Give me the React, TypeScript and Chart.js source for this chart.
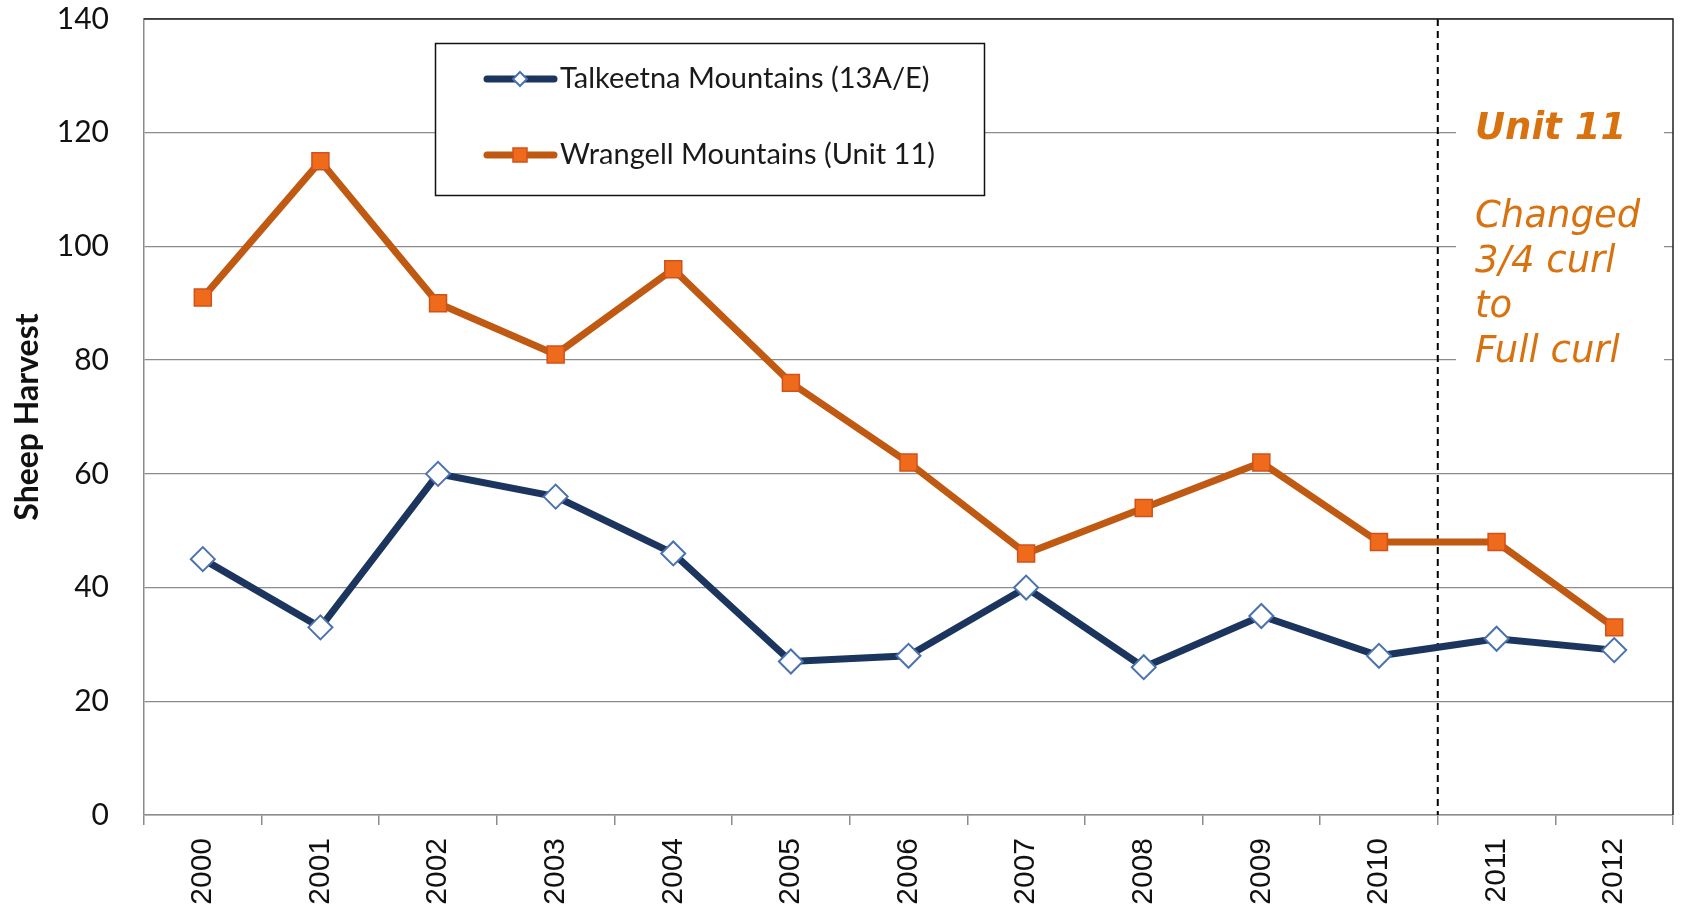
import React, { useEffect, useRef } from "react";
import { Chart, registerables } from "chart.js";

Chart.register(...registerables);

const years = ["2000", "2001", "2002", "2003", "2004", "2005", "2006", "2007", "2008", "2009", "2010", "2011", "2012"];
const talkeetna = [45, 33, 60, 56, 46, 27, 28, 40, 26, 35, 28, 31, 29];
const wrangell = [91, 115, 90, 81, 96, 76, 62, 46, 54, 62, 48, 48, 33];
const seriesNames = ["Talkeetna Mountains (13A/E)", "Wrangell Mountains (Unit 11)"];
const yAxisTitle = "Sheep Harvest";
const noteTitle = "Unit 11";
const noteLines = ["Changed", "3/4 curl", "to", "Full curl"];
const changeBetween = ["2010", "2011"];

const NAVY = "#1c355e";
const DIAMOND_EDGE = "#4a72b0";
const ORANGE_LINE = "#c05a12";
const ORANGE_FILL = "#f06a1c";
const ORANGE_EDGE = "#d0521a";
const NOTE_COLOR = "#d8720f";
const GRID = "#8c8c8c";

function drawDiamond(ctx: CanvasRenderingContext2D, x: number, y: number, r: number) {
  ctx.beginPath();
  ctx.moveTo(x, y - r);
  ctx.lineTo(x + r, y);
  ctx.lineTo(x, y + r);
  ctx.lineTo(x - r, y);
  ctx.closePath();
  ctx.fillStyle = "#ffffff";
  ctx.fill();
  ctx.lineWidth = 2;
  ctx.strokeStyle = DIAMOND_EDGE;
  ctx.stroke();
}

function drawSquare(ctx: CanvasRenderingContext2D, x: number, y: number, s: number) {
  ctx.fillStyle = ORANGE_FILL;
  ctx.fillRect(x - s / 2, y - s / 2, s, s);
  ctx.lineWidth = 1.5;
  ctx.strokeStyle = ORANGE_EDGE;
  ctx.strokeRect(x - s / 2, y - s / 2, s, s);
}

const decorPlugin = {
  id: "decor",
  beforeDatasetsDraw(chart: any) {
    const { ctx, chartArea, scales } = chart;
    const x = scales.x;
    ctx.save();
    ctx.fillStyle = "#ffffff";
    ctx.fillRect(1456, 100, 208, 275);
    const i0 = years.indexOf(changeBetween[0]);
    const i1 = years.indexOf(changeBetween[1]);
    const xm = (x.getPixelForValue(i0) + x.getPixelForValue(i1)) / 2;
    ctx.strokeStyle = "#000000";
    ctx.lineWidth = 2;
    ctx.setLineDash([7, 5]);
    ctx.beginPath();
    ctx.moveTo(xm, chartArea.top);
    ctx.lineTo(xm, chartArea.bottom);
    ctx.stroke();
    ctx.setLineDash([]);
    ctx.strokeStyle = "#222222";
    ctx.lineWidth = 1.5;
    ctx.beginPath();
    ctx.moveTo(chartArea.left, chartArea.top);
    ctx.lineTo(chartArea.right, chartArea.top);
    ctx.lineTo(chartArea.right, chartArea.bottom);
    ctx.stroke();
    ctx.restore();
  },
  afterDraw(chart: any) {
    const { ctx } = chart;
    ctx.save();
    ctx.fillStyle = "#ffffff";
    ctx.fillRect(435, 43, 550, 153);
    ctx.strokeStyle = "#111111";
    ctx.lineWidth = 1.5;
    ctx.strokeRect(435.5, 43.5, 549, 152);
    const rows = [79, 155];
    rows.forEach((ry, i) => {
      ctx.lineWidth = 7;
      ctx.strokeStyle = i === 0 ? NAVY : ORANGE_LINE;
      ctx.lineCap = "round";
      ctx.beginPath();
      ctx.moveTo(487, ry);
      ctx.lineTo(554, ry);
      ctx.stroke();
      if (i === 0) drawDiamond(ctx, 520, ry, 7);
      else drawSquare(ctx, 520, ry, 14);
      ctx.fillStyle = "#1a1a1a";
      ctx.font = "29px Lato";
      ctx.textBaseline = "middle";
      ctx.textAlign = "left";
      ctx.fillText(seriesNames[i], 560, ry);
    });
    ctx.fillStyle = NOTE_COLOR;
    ctx.textBaseline = "alphabetic";
    ctx.font = "italic bold 37px 'DejaVu Sans'";
    ctx.fillText(noteTitle, 1475, 139);
    ctx.font = "italic 37px 'DejaVu Sans'";
    noteLines.forEach((t, i) => ctx.fillText(t, 1475, 227 + i * 45));
    ctx.restore();
  },
};

export default function App() {
  const ref = useRef<HTMLCanvasElement | null>(null);
  useEffect(() => {
    if (!ref.current) return;
    const chart = new Chart(ref.current, {
      type: "line",
      data: {
        labels: years,
        datasets: [
          {
            label: seriesNames[0],
            data: talkeetna,
            borderColor: NAVY,
            borderWidth: 7,
            pointStyle: "rectRot",
            pointRadius: 12,
            pointBackgroundColor: "#ffffff",
            pointBorderColor: DIAMOND_EDGE,
            pointBorderWidth: 2,
            tension: 0,
          },
          {
            label: seriesNames[1],
            data: wrangell,
            borderColor: ORANGE_LINE,
            borderWidth: 7,
            pointStyle: "rect",
            pointRadius: 12,
            pointBackgroundColor: ORANGE_FILL,
            pointBorderColor: ORANGE_EDGE,
            pointBorderWidth: 1.5,
            tension: 0,
          },
        ],
      },
      options: {
        animation: false,
        responsive: false,
        maintainAspectRatio: false,
        layout: { padding: { top: 19, right: 11, left: 0, bottom: 0 } },
        plugins: { legend: { display: false }, tooltip: { enabled: false } },
        scales: {
          x: {
            offset: true,
            grid: {
              offset: true,
              drawOnChartArea: false,
              drawTicks: true,
              tickLength: 10,
              color: GRID,
              lineWidth: 1.5,
            },
            border: { color: GRID, width: 1.5 },
            ticks: {
              minRotation: 90,
              maxRotation: 90,
              padding: 13,
              color: "#111111",
              font: { family: "Liberation Sans", size: 30 },
            },
            afterFit(scale: any) {
              scale.height = 97;
              scale.paddingLeft = 0;
              scale.paddingRight = 0;
            },
          },
          y: {
            min: 0,
            max: 140,
            ticks: {
              stepSize: 20,
              padding: 35,
              color: "#111111",
              font: { family: "Lato", size: 30 },
            },
            grid: { color: GRID, lineWidth: 1.3, drawTicks: false },
            border: { color: GRID, width: 1.5 },
            title: {
              display: true,
              text: yAxisTitle,
              color: "#111111",
              font: { family: "Lato", size: 32, weight: "bold" },
              padding: { top: 8, bottom: 0 },
            },
            afterFit(scale: any) {
              scale.width = 144;
              scale.paddingTop = 0;
              scale.paddingBottom = 0;
            },
          },
        },
      },
      plugins: [decorPlugin],
    });
    return () => chart.destroy();
  }, []);
  return (
    <div style={{ position: "fixed", left: 0, top: 0, width: 1687, height: 912, background: "#fff" }}>
      <canvas ref={ref} width={1687} height={912} style={{ width: 1687, height: 912, display: "block" }} />
    </div>
  );
}
